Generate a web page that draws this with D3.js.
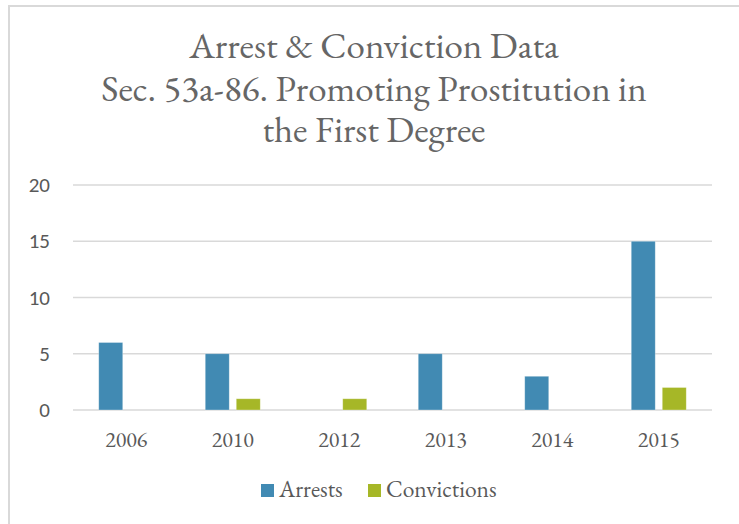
<html>
<head>
<meta charset="utf-8">
<script src="https://cdnjs.cloudflare.com/ajax/libs/d3/7.8.5/d3.min.js"></script>
<style>
  body { margin: 0; padding: 0; background: #fff; }
  svg { display: block; }
</style>
</head>
<body>
<script>
// data
var years = ["2006", "2010", "2012", "2013", "2014", "2015"];
var seriesNames = ["Arrests", "Convictions"];
var arrests = [6, 5, 0, 5, 3, 15];
var convictions = [0, 1, 1, 0, 0, 2];
var yTicks = [0, 5, 10, 15, 20];
var titleLines = ["Arrest & Conviction Data", "Sec. 53a-86. Promoting Prostitution in", "the First Degree"];

var w = 739, h = 524;
var colors = { "Arrests": "#418AB3", "Convictions": "#A6B727" };
var serif = "'EB Garamond', Garamond, 'Liberation Serif', 'DejaVu Serif', serif";
var sans = "Carlito, Calibri, 'Open Sans', 'Noto Sans', sans-serif";

var svg = d3.select("body").append("svg")
    .attr("width", w)
    .attr("height", h);

// chart frame (only top and left edges visible in the crop)
svg.append("rect")
    .attr("x", 9).attr("y", 6)
    .attr("width", w + 20).attr("height", h + 20)
    .attr("fill", "none")
    .attr("stroke", "#d9d9d9")
    .attr("stroke-width", 2);

// title
var titleBase = [58, 101, 142];
svg.append("g").selectAll("text")
    .data(titleLines)
    .enter().append("text")
    .attr("x", 374)
    .attr("y", function(d, i) { return titleBase[i]; })
    .attr("text-anchor", "middle")
    .attr("font-family", serif)
    .attr("font-size", 37)
    .attr("fill", "#666")
    .text(function(d) { return d; });

var plotLeft = 73, plotRight = 712, plotTop = 185, plotBottom = 410;

var x0 = d3.scaleBand()
    .domain(years)
    .range([plotLeft, plotRight])
    .padding(0);

var x1 = d3.scaleBand()
    .domain(seriesNames)
    .range([0, x0.bandwidth()])
    .paddingInner(7 / 31)
    .paddingOuter(0.83);

var y = d3.scaleLinear()
    .domain([0, 20])
    .range([plotBottom, plotTop]);

// gridlines
svg.append("g").selectAll("line")
    .data(yTicks)
    .enter().append("line")
    .attr("x1", plotLeft).attr("x2", plotRight)
    .attr("y1", function(d) { return y(d); })
    .attr("y2", function(d) { return y(d); })
    .attr("stroke", "#d9d9d9")
    .attr("stroke-width", 1.5);

// y axis labels
var yAxis = svg.append("g")
    .attr("transform", "translate(50,0)")
    .call(d3.axisLeft(y).tickValues(yTicks).tickSize(0).tickPadding(0));
yAxis.select(".domain").remove();
yAxis.selectAll("text")
    .attr("font-family", sans)
    .attr("font-size", 21)
    .attr("fill", "#595959");

// x axis labels
var xAxis = svg.append("g")
    .attr("transform", "translate(0," + plotBottom + ")")
    .call(d3.axisBottom(x0).tickSize(0).tickPadding(0));
xAxis.select(".domain").remove();
xAxis.selectAll("text")
    .attr("dy", null)
    .attr("y", 37)
    .attr("font-family", serif)
    .attr("font-size", 22)
    .attr("fill", "#595959");

// bars
var rows = years.map(function(yr, i) {
    return { year: yr, values: [
        { key: "Arrests", value: arrests[i] },
        { key: "Convictions", value: convictions[i] }
    ] };
});

var groups = svg.append("g").selectAll("g")
    .data(rows)
    .enter().append("g")
    .attr("transform", function(d) { return "translate(" + x0(d.year) + ",0)"; });

groups.selectAll("rect")
    .data(function(d) { return d.values.filter(function(v) { return v.value > 0; }); })
    .enter().append("rect")
    .attr("x", function(d) { return x1(d.key); })
    .attr("width", x1.bandwidth())
    .attr("y", function(d) { return y(d.value); })
    .attr("height", function(d) { return y(0) - y(d.value); })
    .attr("fill", function(d) { return colors[d.key]; })
    .attr("stroke", "#fff")
    .attr("stroke-opacity", 0.4)
    .attr("stroke-width", 0.75);

// legend
var legendItems = [{ key: "Arrests", x: 261 }, { key: "Convictions", x: 368 }];
var lg = svg.append("g").selectAll("g")
    .data(legendItems)
    .enter().append("g")
    .attr("transform", function(d) { return "translate(" + d.x + ",484)"; });
lg.append("rect")
    .attr("width", 13).attr("height", 13)
    .attr("fill", function(d) { return colors[d.key]; });
lg.append("text")
    .attr("x", 18).attr("y", 13)
    .attr("font-family", serif)
    .attr("font-size", 23.5)
    .attr("fill", "#595959")
    .text(function(d) { return d.key; });
</script>
</body>
</html>
